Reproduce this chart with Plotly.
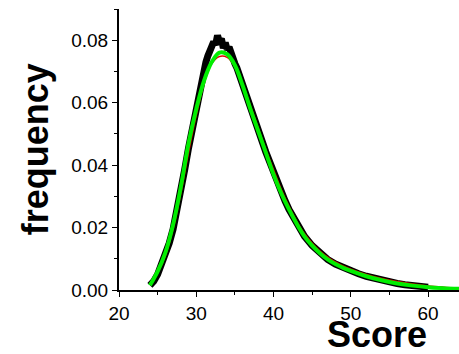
import plotly.graph_objects as go

# Observed histogram (black, noisy)
data_x = [24.0, 24.5, 25.0, 25.5, 26.0, 26.5, 27.0, 27.5, 28.0, 28.5, 29.0, 29.5, 30.0,
          30.25, 30.5, 30.75, 31.0, 31.25, 31.5, 31.75, 32.0, 32.25, 32.5, 32.75, 33.0,
          33.25, 33.5, 33.75, 34.0, 34.25, 34.5, 34.75, 35.0, 35.25, 35.5, 35.75, 36.0,
          36.5, 37.0, 37.5, 38.0, 38.5, 39.0, 39.5, 40.0, 40.5, 41.0, 41.5, 42.0, 42.5,
          43.0, 43.5, 44.0, 45.0, 46.0, 47.0, 48.0, 49.0, 50.0, 51.0, 52.0, 53.0, 54.0,
          55.0, 56.0, 57.0, 58.0, 59.0, 60.0]
data_y = [0.0015, 0.0028, 0.0050, 0.0080, 0.0110, 0.0150, 0.0195, 0.0250, 0.0315, 0.0385,
          0.0455, 0.0520, 0.0580, 0.0625, 0.0655, 0.0685, 0.0705, 0.0730, 0.0750, 0.0775,
          0.0780, 0.0795, 0.0785, 0.0815, 0.0795, 0.0805, 0.0775, 0.0792, 0.0770, 0.0778,
          0.0755, 0.0748, 0.0725, 0.0712, 0.0695, 0.0680, 0.0660, 0.0620, 0.0585, 0.0550,
          0.0515, 0.0478, 0.0442, 0.0408, 0.0375, 0.0342, 0.0312, 0.0285, 0.0258, 0.0234,
          0.0212, 0.0192, 0.0172, 0.0142, 0.0118, 0.0098, 0.0083, 0.0071, 0.0061, 0.0052,
          0.0044, 0.0037, 0.0031, 0.0026, 0.0021, 0.0017, 0.0014, 0.0011, 0.0009]

# Red fit
red_x = [24, 25, 26, 27, 28, 29, 30, 31, 32, 33, 34, 35, 36, 37, 38, 39, 40, 41, 42, 43,
         44, 45, 46, 47, 48, 49, 50, 52, 54, 56, 58, 60, 62, 64]
red_y = [0.0020, 0.0055, 0.0110, 0.0195, 0.0310, 0.0440, 0.0560, 0.0660, 0.0725, 0.0748,
         0.0745, 0.0715, 0.0660, 0.0590, 0.0520, 0.0450, 0.0385, 0.0322, 0.0268, 0.0220,
         0.0180, 0.0150, 0.0125, 0.0105, 0.0090, 0.0077, 0.0067, 0.0050, 0.0037, 0.0027,
         0.0019, 0.0013, 0.0009, 0.0006]

# Green fit
green_x = [24, 25, 26, 27, 28, 29, 30, 31, 32, 33, 34, 35, 36, 37, 38, 39, 40, 41, 42, 43,
           44, 45, 46, 47, 48, 49, 50, 52, 54, 56, 58, 60, 62, 64]
green_y = [0.0015, 0.0060, 0.0120, 0.0210, 0.0330, 0.0470, 0.0580, 0.0670, 0.0730, 0.0760,
           0.0755, 0.0720, 0.0655, 0.0580, 0.0510, 0.0440, 0.0370, 0.0310, 0.0258, 0.0212,
           0.0172, 0.0142, 0.0118, 0.0098, 0.0083, 0.0071, 0.0061, 0.0044, 0.0031, 0.0021,
           0.0014, 0.0009, 0.0006, 0.0004]

x_ticks = [20, 30, 40, 50, 60]
y_ticks = [0.00, 0.02, 0.04, 0.06, 0.08]

FONT = "Arial, Liberation Sans, sans-serif"

fig = go.Figure()
fig.add_trace(go.Scatter(x=data_x, y=data_y, mode="lines",
                         line=dict(color="black", width=7), showlegend=False))
fig.add_trace(go.Scatter(x=red_x, y=red_y, mode="lines", line_shape="spline",
                         line=dict(color="#e00000", width=1.5), showlegend=False))
fig.add_trace(go.Scatter(x=green_x, y=green_y, mode="lines", line_shape="spline",
                         line=dict(color="#00ee00", width=4), showlegend=False))

fig.update_layout(
    width=459, height=354,
    margin=dict(l=119, r=0, t=9, b=64),
    paper_bgcolor="white", plot_bgcolor="white",
    font=dict(family=FONT, color="black"),
    xaxis=dict(range=[20, 64], tickvals=x_ticks, ticks="outside", ticklen=5,
               tickwidth=1.2, tickcolor="black", showline=True, linecolor="black",
               linewidth=1.5, showgrid=False, zeroline=False,
               tickfont=dict(size=19, family=FONT),
               minor=dict(dtick=5, ticks="outside", ticklen=3, tickcolor="black",
                          tickwidth=1.2, showgrid=False)),
    yaxis=dict(range=[0, 0.09], tickvals=y_ticks, tickformat=".2f", ticks="outside",
               ticklen=5, tickwidth=1.2, tickcolor="black", showline=True,
               linecolor="black", linewidth=2, showgrid=False, zeroline=False,
               tickfont=dict(size=19, family=FONT),
               minor=dict(dtick=0.01, ticks="outside", ticklen=3, tickcolor="black",
                          tickwidth=1.2, showgrid=False)),
    annotations=[
        dict(text="<b>frequency</b>", xref="paper", yref="paper", x=-0.245, y=0.50,
             xanchor="center", yanchor="middle", textangle=-90, showarrow=False,
             font=dict(size=36, family=FONT, color="black")),
        dict(text="<b>Score</b>", xref="paper", yref="paper", x=0.76, y=-0.158,
             xanchor="center", yanchor="middle", showarrow=False,
             font=dict(size=36, family=FONT, color="black")),
    ],
)

fig.write_html("out.html")
